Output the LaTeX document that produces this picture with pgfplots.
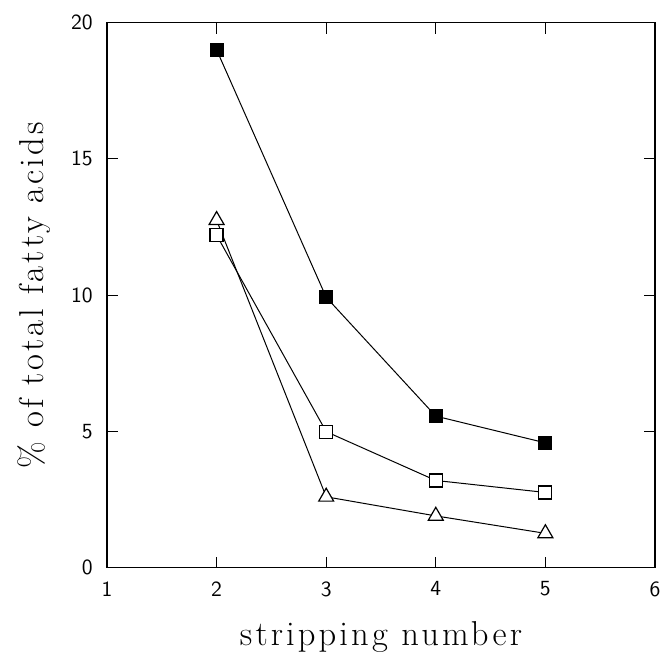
\documentclass[border=0pt]{standalone}
\usepackage{fontspec}
\newfontfamily\spaced[LetterSpace=9]{Latin Modern Roman}
\usepackage{pgfplots}
\pgfplotsset{compat=1.18}
\begin{document}
\begin{tikzpicture}
\begin{axis}[
  scale only axis,
  width=274pt, height=272.6pt,
  xmin=1, xmax=6, ymin=0, ymax=20,
  xtick={1,2,3,4,5,6}, ytick={0,5,10,15,20},
  tick align=inside,
  major tick length=5.5pt,
  minor tick num=0,
  axis line style={line width=0.6pt},
  every tick/.style={line width=0.5pt, black},
  /pgf/number format/assume math mode=true,
  tick label style={font=\fontsize{10.8}{12}\selectfont\sffamily},
  yticklabel style={xshift=-3.6pt},
  xticklabel style={yshift=-3.4pt},
  xlabel={stripping number},
  ylabel={\% of total fatty acids},
  label style={font=\spaced\fontsize{17.28}{20}\selectfont},
  xlabel style={at={(axis description cs:0.5,-0.143)}, anchor=base},
  ylabel style={at={(axis description cs:-0.115,0.5)}, anchor=base},
]
\addplot[black, line width=0.5pt, mark=square*, mark size=3.25pt, mark options={solid, fill=black, line width=0.5pt}]
  coordinates {(2,19.0) (3,9.92) (4,5.56) (5,4.58)};
\addplot[black, line width=0.5pt, mark=square*, mark size=3.25pt, mark options={solid, fill=white, line width=0.6pt}]
  coordinates {(2,12.2) (3,4.99) (4,3.2) (5,2.76)};
\addplot[black, line width=0.5pt, mark=triangle*, mark size=4.3pt, mark options={solid, fill=white, line width=0.6pt}]
  coordinates {(2,12.75) (3,2.6) (4,1.9) (5,1.26)};
\coordinate (bl) at (rel axis cs:0,0);
\coordinate (tr) at (rel axis cs:1,1);
\end{axis}
\pgfresetboundingbox
\useasboundingbox ([shift={(-53.5pt,-46.15pt)}]bl) rectangle ([shift={(2.5pt,11.25pt)}]tr);
\end{tikzpicture}
\end{document}
